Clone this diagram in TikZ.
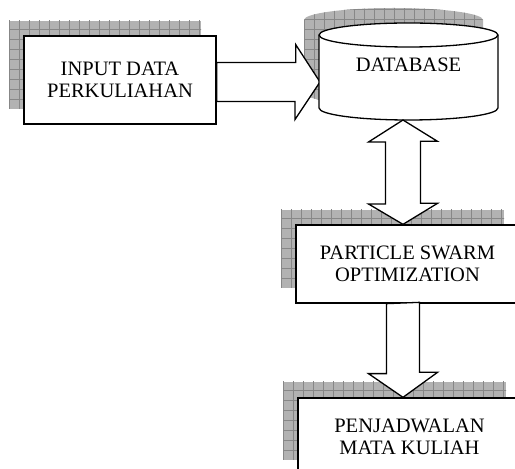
\documentclass[tikz,border=0pt]{standalone}
\usepackage{fontspec}
\setmainfont{Liberation Serif}
\usetikzlibrary{calc}

\definecolor{shadowgray}{RGB}{178,178,178}
\definecolor{shadowline}{RGB}{135,135,135}

\tikzset{
  boxnode/.style={draw=black, line width=1.3pt, fill=white, align=center,
    inner sep=0pt, font=\fontsize{20.5}{22.5}\selectfont},
  blockarrow/.style={draw=black, line width=1.3pt, fill=white, line join=miter},
  shadowgrid/.style={draw=shadowline, line width=0.6pt},
  dblabel/.style={font=\fontsize{20.5}{22.5}\selectfont, inner sep=0pt},
}

% hatched drop shadow: #1 = lower left corner, #2 = upper right corner
\newcommand{\gridshadow}[2]{%
  \fill[shadowgray] #1 rectangle #2;
  \begin{scope}
    \clip #1 rectangle #2;
    \draw[shadowgrid, shift={#1}] (0,0) grid[step=10] (260,120);
  \end{scope}}

\begin{document}
\begin{tikzpicture}[x=1pt, y=1pt]
  \clip (0,0) rectangle (515,469);
  \fill[white] (0,0) rectangle (515,469);

  % ---- drop shadows of the boxes
  \gridshadow{(9,360)}{(201,448)}
  \gridshadow{(281,181)}{(504,259)}
  \gridshadow{(283,9)}{(506,87)}

  % ---- drop shadow of the database cylinder
  \fill[shadowgray] (304,449) -- (304,376) arc[start angle=180, end angle=360, x radius=89.5, y radius=12]
      -- (483,449) arc[start angle=0, end angle=180, x radius=89.5, y radius=12] -- cycle;
  \begin{scope}
    \clip (304,449) -- (304,376) arc[start angle=180, end angle=360, x radius=89.5, y radius=12]
      -- (483,449) arc[start angle=0, end angle=180, x radius=89.5, y radius=12] -- cycle;
    \draw[shadowgrid, shift={(304,360)}] (0,0) grid[step=10] (190,110);
  \end{scope}

  % ---- process boxes
  \node[boxnode, minimum width=192pt, minimum height=88pt] (inp) at (120,389)
    {INPUT DATA\\PERKULIAHAN};
  \node[boxnode, minimum width=223pt, minimum height=78pt] (pso) at (407.5,205)
    {PARTICLE SWARM\\OPTIMIZATION};
  \node[boxnode, minimum width=223pt, minimum height=78pt] (pen) at (409.5,32)
    {PENJADWALAN\\MATA KULIAH};

  % ---- arrow tip points and shared axis
  \coordinate (tipR) at (320,387);
  \coordinate (ax) at (403,0);
  \coordinate (dbfoot) at (403,349);

  % ---- input -> database
  \draw[blockarrow] ($(inp.east |- tipR)+(0,19.5)$) -- ++(79,0) -- ++(0,18)
    -- (tipR) -- ++(-25,-37.5) -- ++(0,18) -- ($(inp.east |- tipR)+(0,-19.5)$) -- cycle;

  % ---- database cylinder
  \draw[line width=1.3pt, fill=white]
    (319,434) -- (319,361) arc[start angle=180, end angle=360, x radius=89.5, y radius=12]
    -- (498,434) arc[start angle=0, end angle=180, x radius=89.5, y radius=12] -- cycle;
  \draw[line width=1.3pt] (319,434) arc[start angle=180, end angle=360, x radius=89.5, y radius=12];
  \node[dblabel] (db) at (408.5,404) {DATABASE};

  % ---- database <-> particle swarm optimization
  \draw[blockarrow] (dbfoot) -- ++(-34.5,-22) -- ++(17,0) -- ++(0,-62) -- ++(-17,0)
    -- (ax |- pso.north) -- ++(34.5,21) -- ++(-17,0) -- ++(0,62) -- ++(17,0) -- cycle;

  % ---- particle swarm optimization -> penjadwalan
  \draw[blockarrow] ($(ax |- pso.south)+(-16.5,0)$) -- ++(0,-70) -- ++(-18,0)
    -- (ax |- pen.north) -- ++(34.5,25) -- ++(-18,0) -- ++(0,70) -- cycle;
\end{tikzpicture}
\end{document}
